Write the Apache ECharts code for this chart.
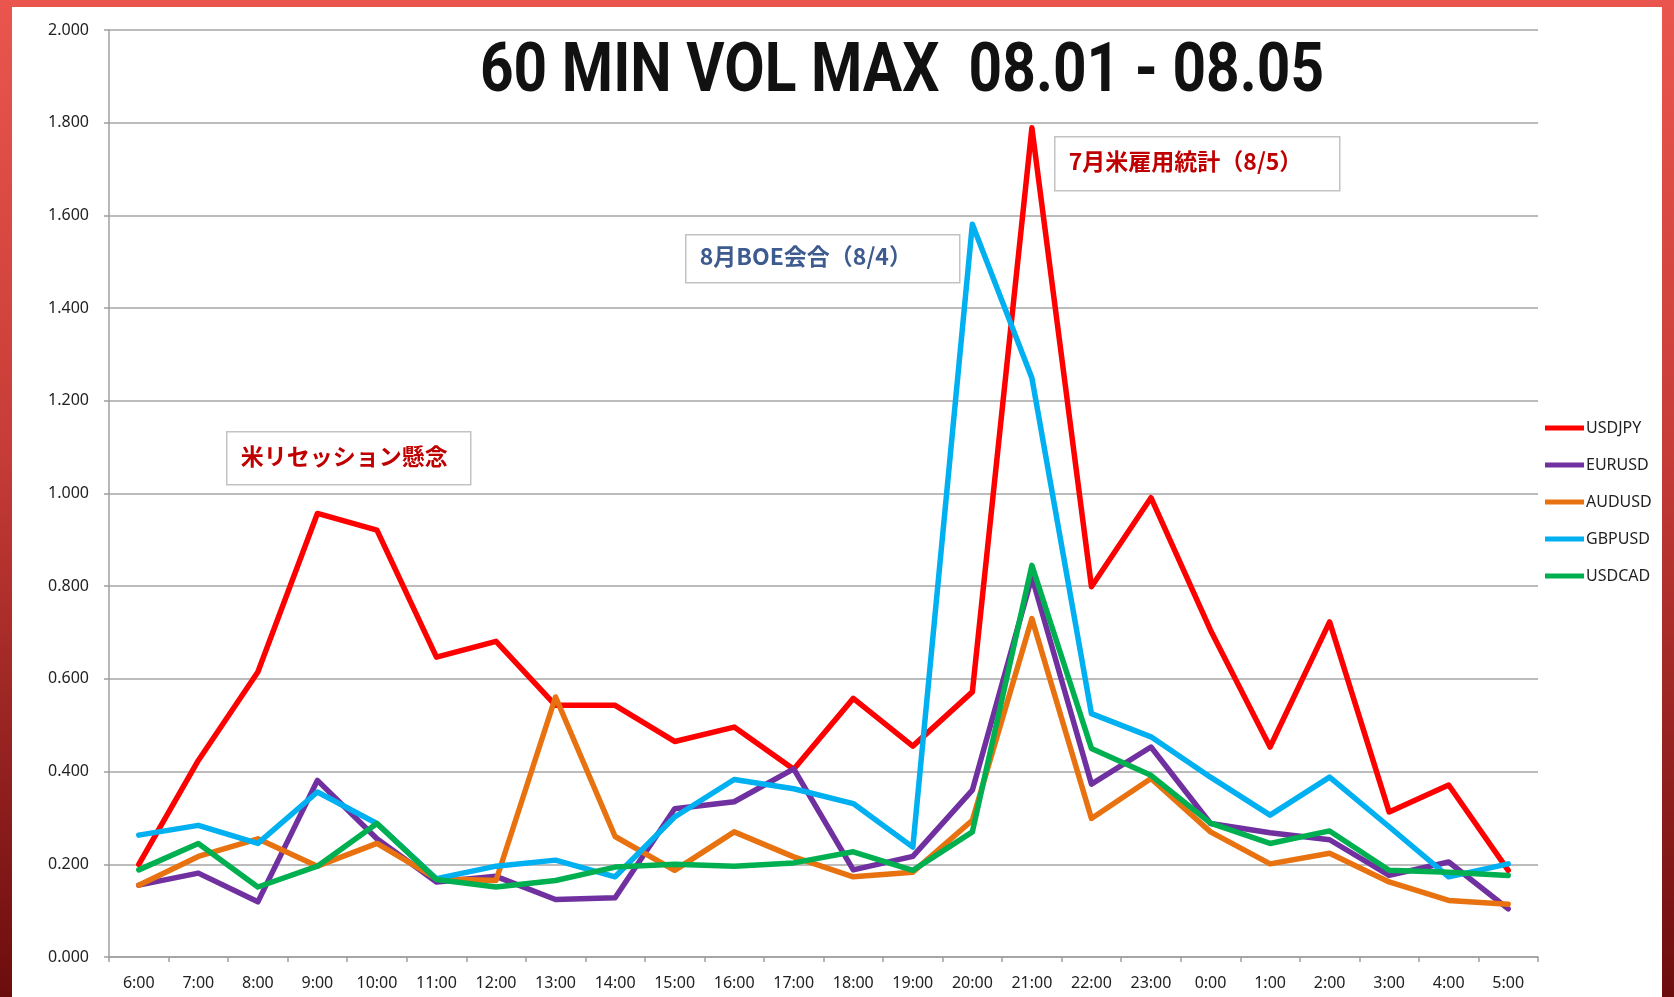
<!DOCTYPE html>
<html>
<head>
<meta charset="utf-8">
<title>60 MIN VOL MAX</title>
<script src="https://cdn.jsdelivr.net/npm/echarts@6.0.0/dist/echarts.min.js"></script>
<style>
  html, body { margin: 0; padding: 0; width: 1674px; height: 997px; overflow: hidden; }
  body { background: linear-gradient(180deg, #ea564e 0%, #c73c37 45%, #6c0d0d 100%); }
  /* white panel inside the red frame */
  #chart { position: absolute; left: 12px; top: 7px; width: 1650px; height: 990px; background: #fff; }
</style>
</head>
<body>
<div id="chart"></div>
<script>
  // time axis (JST hours)
  var hours = ['6:00','7:00','8:00','9:00','10:00','11:00','12:00','13:00','14:00','15:00','16:00','17:00',
               '18:00','19:00','20:00','21:00','22:00','23:00','0:00','1:00','2:00','3:00','4:00','5:00'];

  var usdjpy = [0.200,0.424,0.615,0.957,0.921,0.647,0.681,0.543,0.543,0.465,0.496,0.405,
                0.558,0.455,0.572,1.789,0.799,0.991,0.705,0.453,0.723,0.313,0.371,0.187];
  var eurusd = [0.155,0.181,0.119,0.381,0.255,0.162,0.174,0.124,0.128,0.320,0.335,0.406,
                0.188,0.217,0.360,0.820,0.373,0.453,0.288,0.268,0.253,0.176,0.205,0.104];
  var audusd = [0.155,0.217,0.255,0.196,0.245,0.169,0.165,0.561,0.260,0.187,0.270,0.216,
                0.173,0.183,0.295,0.730,0.299,0.385,0.270,0.201,0.224,0.162,0.122,0.114];
  var gbpusd = [0.263,0.284,0.245,0.356,0.288,0.169,0.196,0.209,0.173,0.302,0.383,0.363,
                0.331,0.237,1.581,1.249,0.525,0.475,0.388,0.306,0.388,0.281,0.173,0.201];
  var usdcad = [0.188,0.245,0.151,0.196,0.288,0.167,0.151,0.165,0.194,0.200,0.196,0.203,
                0.227,0.187,0.270,0.845,0.450,0.392,0.289,0.245,0.272,0.187,0.183,0.176];

  var yMin = 0, yMax = 2, yStep = 0.2;

  var seriesNames = ['USDJPY','EURUSD','AUDUSD','GBPUSD','USDCAD'];
  var seriesData = [usdjpy, eurusd, audusd, gbpusd, usdcad];
  var colors = ['#ff0000','#7030a0','#e8720f','#00b0f0','#00b050'];

  var chart = echarts.init(document.getElementById('chart'));

  var series = seriesNames.map(function (name, i) {
    return {
      name: name,
      type: 'line',
      data: seriesData[i],
      showSymbol: false,
      symbol: 'none',
      color: colors[i],
      lineStyle: { width: 5.5, color: colors[i], cap: 'round', join: 'round' },
      emphasis: { disabled: true }
    };
  });

  // note boxes drawn on top of the plot
  function note(x, y, w, h, text, color) {
    return {
      type: 'group',
      left: x, top: y,
      children: [
        { type: 'rect', shape: { x: 0, y: 0, width: w, height: h },
          style: { fill: '#fff', stroke: '#c3c3c3', lineWidth: 1.5 } },
        { type: 'text', x: 14, y: h / 2 - 2,
          style: { text: text, fill: color, font: 'bold 23px "Noto Sans CJK JP"', textVerticalAlign: 'middle' } }
      ]
    };
  }

  chart.setOption({
    animation: false,
    legend: {
      orient: 'vertical',
      left: 1533,
      top: 413,
      padding: 0,
      itemWidth: 39,
      itemHeight: 5,
      itemGap: 21,
      icon: 'rect',
      textStyle: { fontFamily: 'Noto Sans', fontSize: 16, color: '#222', lineHeight: 16, padding: [0, 0, 0, -3] },
      data: seriesNames
    },
    grid: { left: 97, right: 124, top: 23, bottom: 40, containLabel: false },
    xAxis: {
      type: 'category',
      data: hours,
      boundaryGap: true,
      axisLine: { lineStyle: { color: '#9f9f9f', width: 1.5 } },
      axisTick: { show: true, length: 5, lineStyle: { color: '#9f9f9f', width: 1.5 } },
      axisLabel: { fontFamily: 'Noto Sans', fontSize: 16, color: '#222', margin: 18, interval: 0 },
      splitLine: { show: false }
    },
    yAxis: {
      type: 'value',
      min: yMin,
      max: yMax,
      interval: yStep,
      axisLine: { show: true, lineStyle: { color: '#9f9f9f', width: 1.5 } },
      axisTick: { show: true, length: 5, lineStyle: { color: '#9f9f9f', width: 1.5 } },
      axisLabel: {
        fontFamily: 'Noto Sans', fontSize: 16, color: '#222', margin: 20,
        formatter: function (v) { return v.toFixed(3); }
      },
      splitLine: { show: true, lineStyle: { color: '#a6a6a6', width: 1.5 } }
    },
    series: series,
    graphic: [
      // title, squeezed horizontally to look like the condensed face of the original
      {
        type: 'text',
        x: 890, y: 67,
        scaleX: 0.85,
        z: 10,
        style: {
          text: '60 MIN VOL MAX  08.01 - 08.05',
          font: 'bold 69px Roboto',
          fill: '#111',
          textAlign: 'center',
          textVerticalAlign: 'middle'
        }
      },
      note(214, 424, 244, 53, '米リセッション懸念', '#c00000'),
      note(673, 227, 274, 48, '8月BOE会合（8/4）', '#3d5b8f'),
      note(1042, 129, 285, 54, '7月米雇用統計（8/5）', '#c00000')
    ]
  });
</script>
</body>
</html>
